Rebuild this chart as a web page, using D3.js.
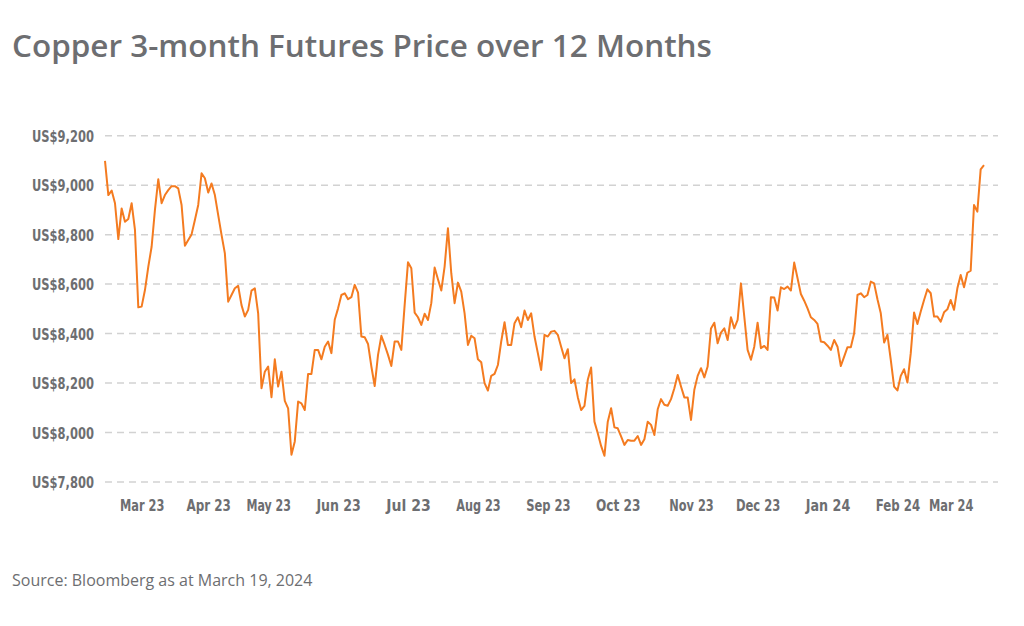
<!DOCTYPE html>
<html>
<head>
<meta charset="utf-8">
<script src="https://cdn.jsdelivr.net/npm/d3@7"></script>
<style>
  html, body { margin: 0; padding: 0; background: #fff; }
  svg { display: block; }
</style>
</head>
<body>
<svg id="chart" width="1024" height="626"></svg>
<script>
// ---- Data ----
const titleText = "Copper 3-month Futures Price over 12 Months";
const sourceText = "Source: Bloomberg as at March 19, 2024";

// daily closing prices (US$/t), trading days from mid-Feb 2023 to 19 Mar 2024
const prices = [
  9098, 8960, 8978, 8927, 8782, 8906, 8852, 8863, 8927, 8819,
  8506, 8509, 8576, 8670, 8751, 8900, 9024, 8927, 8960, 8980,
  8996, 8996, 8987, 8920, 8755, 8778, 8801, 8859, 8920, 9048,
  9028, 8970, 9007, 8960, 8879, 8799, 8724, 8529, 8556, 8583,
  8593, 8515, 8469, 8496, 8574, 8583, 8482, 8179, 8246, 8267,
  8143, 8296, 8186, 8246, 8128, 8098, 7910, 7964, 8125, 8118,
  8091, 8237, 8237, 8334, 8334, 8296, 8347, 8368,
  8321, 8456, 8502, 8556, 8563, 8539, 8547, 8597, 8566, 8388,
  8385, 8358, 8267, 8188, 8314, 8391, 8354, 8314, 8269, 8368,
  8368, 8334, 8516, 8688, 8664, 8485, 8466, 8435, 8480, 8455,
  8523, 8667, 8620, 8574, 8671, 8826, 8644, 8523, 8606, 8570,
  8482, 8354, 8391, 8381, 8296, 8284, 8200, 8170, 8229, 8237,
  8273, 8368, 8446, 8354, 8354, 8442, 8466, 8426, 8493, 8455,
  8482, 8388, 8321, 8253,
  8395, 8388, 8408, 8411, 8395, 8347, 8300, 8337, 8200, 8215,
  8143, 8091, 8108, 8213, 8263, 8044, 7997, 7946, 7906, 8044,
  8098, 8021, 8017, 7984, 7950, 7970, 7967, 7967, 7986, 7950,
  7973, 8044, 8031, 7990, 8094, 8135, 8112, 8108, 8135, 8179,
  8233, 8186, 8142, 8142, 8051, 8173, 8229, 8260, 8223, 8267,
  8421, 8444, 8361, 8404, 8421, 8374, 8466, 8421, 8455, 8603,
  8469, 8334, 8294, 8347, 8444, 8341, 8350, 8334,
  8547, 8546, 8493, 8587, 8580, 8590, 8574, 8687, 8624, 8560,
  8533, 8502, 8466, 8455, 8439, 8368, 8365, 8351, 8334, 8374,
  8347, 8269, 8307, 8345, 8345, 8401, 8556, 8563, 8547, 8556,
  8610, 8603, 8539, 8482, 8364, 8395, 8294, 8186, 8170, 8229,
  8256, 8202, 8321, 8485, 8439, 8489, 8536, 8579, 8563, 8469,
  8469, 8448, 8486, 8498, 8536, 8496, 8583, 8637, 8587, 8646,
  8654, 8920, 8893, 9064, 9081
];

// month tick labels and the trading-day index each one sits on
const monthLabels = ["Mar 23","Apr 23","May 23","Jun 23","Jul 23","Aug 23","Sep 23",
                     "Oct 23","Nov 23","Dec 23","Jan 24","Feb 24","Mar 24"];
const monthIndex  = [11, 31, 49, 70, 91, 112, 133, 154, 176, 196, 217, 238, 254];

const yTicks = [7800, 8000, 8200, 8400, 8600, 8800, 9000, 9200];

// ---- Layout ----
const svg = d3.select("#chart");
const plot = { left: 105, right: 984, top: 135.7, bottom: 482 };
const gridRight = 998;

const x = d3.scaleLinear().domain([0, prices.length - 1]).range([plot.left, plot.right]);
const y = d3.scaleLinear().domain([7800, 9200]).range([plot.bottom, plot.top]);

const labelFont = "'Liberation Sans Narrow', 'DejaVu Sans Condensed', 'Liberation Sans', sans-serif";
const gray = "#6d6e71";

// Title
const title = svg.append("text")
  .attr("x", 12).attr("y", 57)
  .attr("fill", gray)
  .style("font-family", "'Open Sans', 'Noto Sans', sans-serif")
  .style("font-weight", 600)
  .style("font-size", "30px")
  .text(titleText);
fitWidth(title, 700, 30);

// Gridlines
svg.append("g")
  .selectAll("line")
  .data(yTicks)
  .join("line")
  .attr("x1", plot.left).attr("x2", gridRight)
  .attr("y1", d => y(d)).attr("y2", d => y(d))
  .attr("stroke", "#d2d2d2")
  .attr("stroke-width", 1.5)
  .attr("stroke-dasharray", "7,5");

// Y axis (labels only)
const yAxis = d3.axisLeft(y).tickValues(yTicks)
  .tickFormat(d => "US$" + d3.format(",")(d))
  .tickSize(0).tickPadding(0);
const gy = svg.append("g").attr("transform", `translate(94,0)`).call(yAxis);
gy.select(".domain").remove();
gy.selectAll("text")
  .attr("fill", gray)
  .attr("dy", "0.36em")
  .style("font-family", labelFont)
  .style("font-weight", 700)
  .style("font-size", "15.5px")
  .each(function() { fitWidth(d3.select(this), 62, 15.5); });

// X axis (labels only)
const xAxis = d3.axisBottom(x).tickValues(monthIndex)
  .tickFormat((d, i) => monthLabels[i])
  .tickSize(0).tickPadding(0);
const gx = svg.append("g").attr("transform", `translate(0,500)`).call(xAxis);
gx.select(".domain").remove();
gx.selectAll("text")
  .attr("fill", gray)
  .attr("dy", "0.71em")
  .style("font-family", labelFont)
  .style("font-weight", 700)
  .style("font-size", "16px")
  .each(function(d, i) { fitWidth(d3.select(this), monthLabels[i].length * 7.4, 16); });

// Line
const line = d3.line().x((d, i) => x(i)).y(d => y(d)).curve(d3.curveLinear);
svg.append("path")
  .datum(prices)
  .attr("d", line)
  .attr("fill", "none")
  .attr("stroke", "#f47b20")
  .attr("stroke-width", 2)
  .attr("stroke-linejoin", "round");

// Source
const src = svg.append("text")
  .attr("x", 12).attr("y", 586)
  .attr("fill", gray)
  .style("font-family", "'Open Sans', 'Noto Sans', sans-serif")
  .style("font-size", "16px")
  .text(sourceText);
fitWidth(src, 303, 16);

// Compress text horizontally to the target width, as the original condensed face does
function fitWidth(sel, target, size) {
  const w = sel.node().getComputedTextLength();
  if (w > target) {
    sel.attr("textLength", target).attr("lengthAdjust", "spacingAndGlyphs");
  } else if (w < target * 0.97) {
    sel.style("font-size", (size * target / w).toFixed(2) + "px");
  }
}
</script>
</body>
</html>
